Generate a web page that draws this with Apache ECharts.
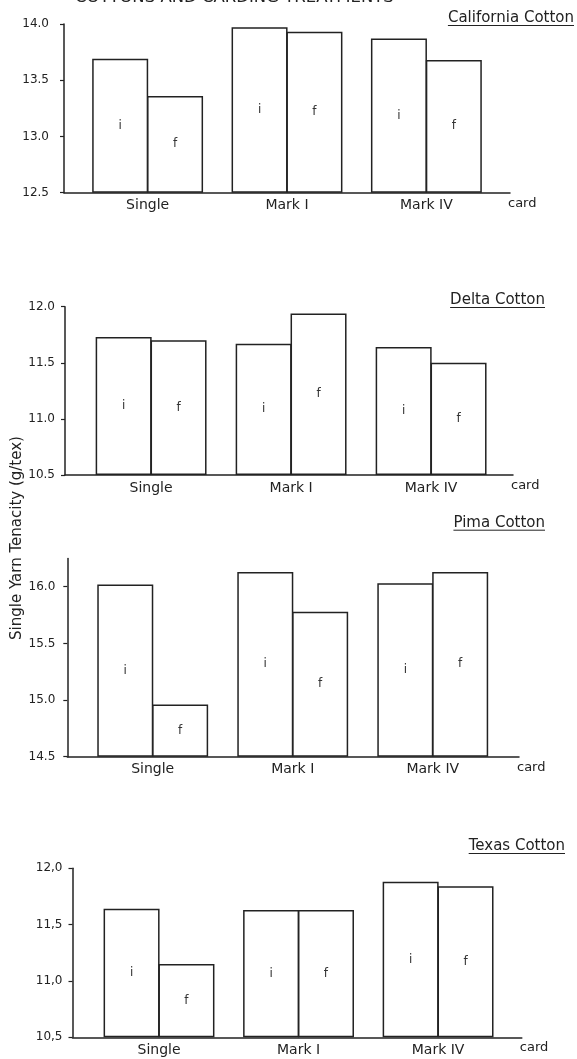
<!DOCTYPE html>
<html><head><meta charset="utf-8">
<script src="https://cdn.jsdelivr.net/npm/echarts@6/dist/echarts.min.js"></script>
<style>html,body{margin:0;padding:0;background:#fff}#c{width:577px;height:1059px}</style>
</head><body><div id="c"></div>
<script>
// ---- data ----
const categories = ['Single', 'Mark I', 'Mark IV'];
const panelTitles = ['California Cotton', 'Delta Cotton', 'Pima Cotton', 'Texas Cotton'];
const californiaI = [13.69, 13.97, 13.87];
const californiaF = [13.36, 13.93, 13.68];
const deltaI = [11.73, 11.67, 11.64];
const deltaF = [11.70, 11.94, 11.50];
const pimaI = [16.02, 16.13, 16.03];
const pimaF = [14.96, 15.78, 16.13];
const texasI = [11.64, 11.63, 11.88];
const texasF = [11.15, 11.63, 11.84];
const californiaTicks = [12.5, 13.0, 13.5, 14.0];
const californiaTickLabels = ['12.5', '13.0', '13.5', '14.0'];
const deltaTicks = [10.5, 11.0, 11.5, 12.0];
const deltaTickLabels = ['10.5', '11.0', '11.5', '12.0'];
const pimaTicks = [14.5, 15.0, 15.5, 16.0];
const pimaTickLabels = ['14.5', '15.0', '15.5', '16.0'];
const texasTicks = [10.5, 11.0, 11.5, 12.0];
const texasTickLabels = ['10,5', '11,0', '11,5', '12,0'];
const yAxisTitle = 'Single Yarn Tenacity (g/tex)';
const headerText = 'COTTONS AND CARDING TREATMENTS';
const xAxisName = 'card';
const barLabels = ['i', 'f'];

// ---- layout / style ----
const FONT = 'DejaVu Sans';
const INK = '#222';
const panels = [
  { i: californiaI, f: californiaF, ticks: californiaTicks, labels: californiaTickLabels, yMin: 12.5, yMax: 14.0,
    left: 64, top: 24, width: 446, height: 168.7, xMin: 0.4, xMax: 3.6, labelMargin: 15, titleRight: 574, titleY: 18 },
  { i: deltaI, f: deltaF, ticks: deltaTicks, labels: deltaTickLabels, yMin: 10.5, yMax: 12.0,
    left: 65, top: 306.7, width: 448, height: 168.3, xMin: 0.385, xMax: 3.585, labelMargin: 10, titleRight: 545, titleY: 300 },
  { i: pimaI, f: pimaF, ticks: pimaTicks, labels: pimaTickLabels, yMin: 14.5, yMax: 16.25,
    left: 67.3, top: 558.4, width: 451.7, height: 198.3, xMin: 0.39, xMax: 3.616, labelMargin: 12, titleRight: 545, titleY: 522.7 },
  { i: texasI, f: texasF, ticks: texasTicks, labels: texasTickLabels, yMin: 10.5, yMax: 12.0,
    left: 72.5, top: 868.3, width: 449.3, height: 169, xMin: 0.38, xMax: 3.6, labelMargin: 10, titleRight: 565, titleY: 846 }
];

const grid = [], xAxis = [], yAxis = [], series = [], graphic = [];
const ctx = document.createElement('canvas').getContext('2d');
ctx.font = '15px "' + FONT + '"';

panels.forEach((p, k) => {
  grid.push({ left: p.left, top: p.top, width: p.width, height: p.height, containLabel: false });
  xAxis.push({
    gridIndex: k, type: 'value', min: p.xMin, max: p.xMax,
    axisLine: { show: true, lineStyle: { color: INK, width: 1.5 } },
    axisTick: { show: false }, splitLine: { show: false },
    axisLabel: {
      customValues: [1, 2, 3],
      formatter: v => categories[Math.round(v) - 1] || '',
      fontFamily: FONT, fontSize: 14, color: INK, margin: 6
    },
    name: xAxisName, nameLocation: 'end', nameGap: -2,
    nameTextStyle: { fontFamily: FONT, fontSize: 13, color: INK, align: 'left', verticalAlign: 'top', padding: [4, 0, 0, 0] }
  });
  yAxis.push({
    gridIndex: k, type: 'value', min: p.yMin, max: p.yMax,
    axisLine: { show: true, lineStyle: { color: INK, width: 1.5 } },
    axisTick: { show: true, length: 4, customValues: p.ticks, lineStyle: { color: INK, width: 1.2 } },
    splitLine: { show: false },
    axisLabel: {
      customValues: p.ticks,
      formatter: v => { const j = p.ticks.findIndex(t => Math.abs(t - v) < 1e-6); return j >= 0 ? p.labels[j] : ''; },
      fontFamily: FONT, fontSize: 12, color: INK, margin: p.labelMargin
    }
  });
  // data rows are [value, categoryPosition]; value column first so the stack runs on the value (y) dimension
  [['i', p.i, 0], ['f', p.f, 1]].forEach(([key, vals, li]) => {
    const stack = 'p' + k + key;
    series.push({
      type: 'bar', xAxisIndex: k, yAxisIndex: k, stack, silent: true,
      encode: { x: 1, y: 0 },
      barWidth: 56, barGap: '-2%',
      itemStyle: { color: 'rgba(0,0,0,0)', borderWidth: 0 },
      data: vals.map((v, c) => [p.yMin, c + 1])
    });
    series.push({
      type: 'bar', xAxisIndex: k, yAxisIndex: k, stack, silent: true,
      encode: { x: 1, y: 0 },
      barWidth: 56, barGap: '-2%',
      itemStyle: { color: '#fff', borderColor: INK, borderWidth: 1.5 },
      label: { show: true, position: 'inside', formatter: () => barLabels[li], fontFamily: FONT, fontSize: 12, color: '#333' },
      data: vals.map((v, c) => [+(v - p.yMin).toFixed(4), c + 1])
    });
  });
  const w = ctx.measureText(panelTitles[k]).width;
  graphic.push({ type: 'text', x: p.titleRight, y: p.titleY,
    style: { text: panelTitles[k], x: 0, y: 0, align: 'right', textAlign: 'right', verticalAlign: 'middle', textVerticalAlign: 'middle',
      fontFamily: FONT, fontSize: 15, fill: INK } });
  graphic.push({ type: 'line', shape: { x1: p.titleRight - w, y1: p.titleY + 7.5, x2: p.titleRight, y2: p.titleY + 7.5 },
    style: { stroke: INK, lineWidth: 1 } });
});

graphic.push({ type: 'text', x: 75, y: -2,
  style: { text: headerText, x: 0, y: 0, align: 'left', textAlign: 'left', verticalAlign: 'middle', textVerticalAlign: 'middle',
    fontFamily: FONT, fontSize: 16.5, fill: INK } });
graphic.push({ type: 'text', x: 17, y: 538, rotation: Math.PI / 2,
  style: { text: yAxisTitle, x: 0, y: 0, align: 'center', textAlign: 'center', verticalAlign: 'middle', textVerticalAlign: 'middle',
    fontFamily: FONT, fontSize: 15, fill: INK } });

const chart = echarts.init(document.getElementById('c'), null, { renderer: 'canvas' });
chart.setOption({ backgroundColor: '#fff', animation: false, grid, xAxis, yAxis, series, graphic });
</script></body></html>
